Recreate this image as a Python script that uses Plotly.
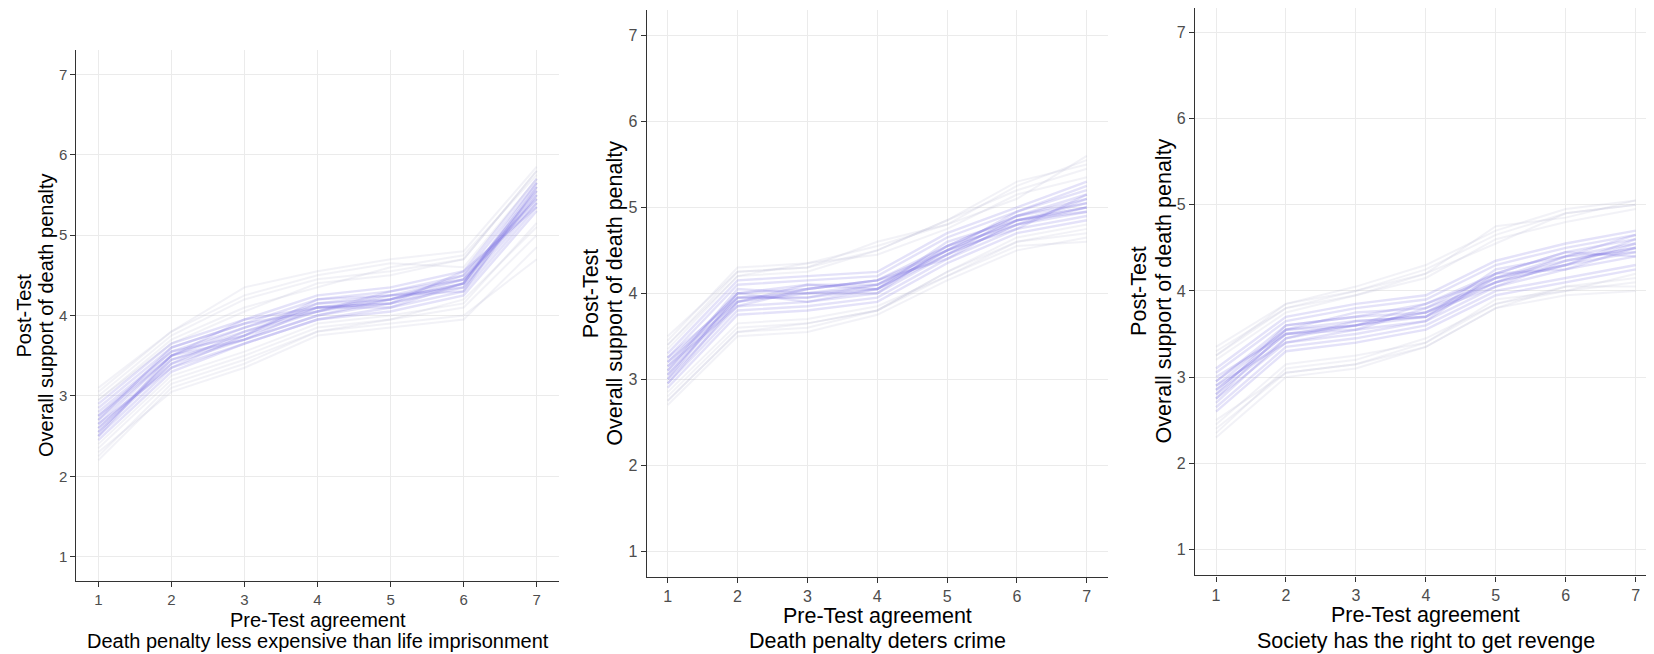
import plotly.graph_objects as go

x_levels = [1, 2, 3, 4, 5, 6, 7]
y_ticks = [1, 2, 3, 4, 5, 6, 7]

panel_titles = [
    "Death penalty less expensive than life imprisonment",
    "Death penalty deters crime",
    "Society has the right to get revenge",
]
x_title_main = "Pre-Test agreement"
y_title_lines = ["Post-Test", "Overall support of death penalty"]

# ---- Panel 1: Death penalty less expensive than life imprisonment ----
p1_core = [
    [2.65, 3.50, 3.80, 4.10, 4.20, 4.40, 5.50],
    [2.55, 3.40, 3.70, 4.00, 4.15, 4.35, 5.40],
    [2.75, 3.55, 3.85, 4.15, 4.25, 4.45, 5.55],
    [2.50, 3.35, 3.65, 3.95, 4.10, 4.30, 5.35],
    [2.85, 3.60, 3.90, 4.20, 4.30, 4.50, 5.65],
    [2.60, 3.45, 3.75, 4.05, 4.20, 4.45, 5.45],
    [2.70, 3.50, 3.85, 4.10, 4.15, 4.40, 5.60],
    [2.45, 3.30, 3.65, 3.95, 4.05, 4.25, 5.30],
    [2.90, 3.65, 3.95, 4.25, 4.35, 4.55, 5.70],
    [2.60, 3.40, 3.80, 4.05, 4.25, 4.35, 5.50],
    [2.80, 3.55, 3.75, 4.15, 4.20, 4.50, 5.45],
    [2.55, 3.45, 3.70, 4.10, 4.10, 4.40, 5.55],
    [2.70, 3.60, 3.90, 4.05, 4.30, 4.45, 5.40],
    [2.65, 3.35, 3.75, 4.20, 4.25, 4.30, 5.60],
    [2.75, 3.50, 3.95, 4.10, 4.15, 4.55, 5.35],
    [2.50, 3.50, 3.70, 4.00, 4.20, 4.40, 5.65],
]
p1_outer = [
    [2.20, 3.10, 3.40, 3.80, 3.90, 4.00, 4.70],
    [3.10, 3.80, 4.35, 4.55, 4.70, 4.80, 5.85],
    [2.35, 3.20, 3.50, 3.85, 3.95, 4.10, 5.00],
    [3.00, 3.75, 4.20, 4.45, 4.55, 4.70, 5.80],
    [2.30, 3.05, 3.35, 3.75, 3.85, 3.95, 4.85],
    [2.95, 3.70, 4.10, 4.35, 4.60, 4.75, 5.75],
    [2.40, 3.25, 3.55, 3.90, 4.00, 4.15, 5.15],
    [3.05, 3.80, 4.25, 4.50, 4.65, 4.60, 5.70],
    [2.25, 3.15, 3.45, 3.80, 3.95, 4.20, 5.10],
    [2.95, 3.65, 4.05, 4.40, 4.50, 4.70, 5.80],
]

# ---- Panel 2: Death penalty deters crime ----
p2_core = [
    [3.10, 3.95, 4.00, 4.05, 4.50, 4.85, 5.05],
    [3.00, 3.85, 3.90, 4.00, 4.45, 4.80, 4.95],
    [3.20, 4.00, 4.05, 4.15, 4.55, 4.90, 5.15],
    [2.95, 3.80, 3.85, 3.95, 4.40, 4.75, 4.90],
    [3.25, 4.10, 4.15, 4.20, 4.65, 4.95, 5.25],
    [3.05, 3.90, 4.00, 4.10, 4.50, 4.85, 5.00],
    [3.15, 4.00, 4.10, 4.05, 4.45, 4.90, 5.10],
    [2.90, 3.75, 3.80, 3.90, 4.35, 4.70, 4.85],
    [3.30, 4.15, 4.20, 4.25, 4.70, 5.00, 5.30],
    [3.05, 3.95, 3.95, 4.10, 4.55, 4.80, 5.00],
    [3.15, 3.85, 4.05, 4.15, 4.50, 4.95, 5.20],
    [3.00, 4.00, 3.90, 4.05, 4.60, 4.85, 4.95],
    [3.20, 3.90, 4.10, 4.10, 4.45, 4.80, 5.10],
    [3.10, 4.05, 4.00, 4.00, 4.55, 4.90, 5.05],
    [2.95, 3.90, 4.05, 4.15, 4.40, 4.85, 5.00],
    [3.25, 3.95, 3.95, 4.05, 4.50, 4.75, 5.15],
]
p2_outer = [
    [2.75, 3.55, 3.60, 3.80, 4.20, 4.55, 4.60],
    [3.45, 4.30, 4.35, 4.55, 4.80, 5.25, 5.55],
    [2.80, 3.60, 3.65, 3.80, 4.25, 4.60, 4.70],
    [3.40, 4.25, 4.30, 4.50, 4.85, 5.20, 5.45],
    [2.70, 3.50, 3.55, 3.75, 4.15, 4.50, 4.65],
    [3.50, 4.25, 4.30, 4.60, 4.80, 5.10, 5.60],
    [2.85, 3.65, 3.70, 3.85, 4.20, 4.60, 4.75],
    [3.35, 4.20, 4.35, 4.45, 4.75, 5.15, 5.35],
    [2.75, 3.55, 3.65, 3.80, 4.25, 4.65, 4.80],
    [3.40, 4.20, 4.25, 4.50, 4.85, 5.30, 5.50],
]

# ---- Panel 3: Society has the right to get revenge ----
p3_core = [
    [2.85, 3.50, 3.60, 3.75, 4.15, 4.35, 4.50],
    [2.75, 3.40, 3.50, 3.65, 4.05, 4.25, 4.40],
    [2.95, 3.60, 3.70, 3.85, 4.20, 4.45, 4.60],
    [2.65, 3.35, 3.45, 3.60, 4.00, 4.15, 4.30],
    [3.05, 3.65, 3.80, 3.90, 4.30, 4.50, 4.65],
    [2.80, 3.45, 3.60, 3.75, 4.10, 4.30, 4.45],
    [2.90, 3.55, 3.65, 3.70, 4.15, 4.40, 4.55],
    [2.60, 3.30, 3.40, 3.55, 3.95, 4.10, 4.25],
    [3.10, 3.70, 3.85, 3.95, 4.35, 4.55, 4.70],
    [2.85, 3.50, 3.55, 3.80, 4.20, 4.25, 4.50],
    [2.70, 3.45, 3.65, 3.70, 4.10, 4.40, 4.45],
    [2.95, 3.55, 3.60, 3.85, 4.15, 4.30, 4.60],
    [2.80, 3.60, 3.70, 3.75, 4.05, 4.35, 4.50],
    [2.90, 3.40, 3.55, 3.65, 4.20, 4.45, 4.40],
    [2.75, 3.55, 3.75, 3.80, 4.10, 4.30, 4.55],
    [3.00, 3.50, 3.60, 3.70, 4.25, 4.40, 4.65],
]
p3_outer = [
    [2.30, 3.00, 3.10, 3.35, 3.80, 3.95, 4.00],
    [3.35, 3.85, 4.05, 4.30, 4.70, 4.95, 5.05],
    [2.40, 3.05, 3.15, 3.40, 3.85, 4.00, 4.10],
    [3.25, 3.80, 4.00, 4.25, 4.65, 4.90, 5.00],
    [2.35, 3.10, 3.20, 3.45, 3.85, 4.05, 4.15],
    [3.30, 3.80, 3.95, 4.20, 4.75, 4.85, 5.05],
    [2.45, 3.15, 3.25, 3.40, 3.90, 4.00, 4.20],
    [3.20, 3.75, 3.95, 4.15, 4.60, 4.80, 4.95],
    [2.50, 3.05, 3.15, 3.35, 3.80, 4.05, 4.05],
    [3.25, 3.85, 4.00, 4.20, 4.55, 4.90, 5.00],
]

OFF = 8                      # page body margin added by the browser
W, H = 1654 - OFF, 654 - OFF  # figure fits inside the window
FONT = "Liberation Sans, Arial, sans-serif"

# geometry (window pixels): pixel of value 1 and pixel size of one unit
panels = [
    dict(core=p1_core, outer=p1_outer, x1=98.3, ux=73.07, y1=556.7, uy=80.4,
         tfs=20, kfs=15, ytl=(24, 46.5), xtl=(620, 641)),
    dict(core=p2_core, outer=p2_outer, x1=667.7, ux=69.85, y1=551.0, uy=85.9,
         tfs=21.5, kfs=16, ytl=(591, 615.5), xtl=(616, 641)),
    dict(core=p3_core, outer=p3_outer, x1=1216.0, ux=69.95, y1=549.5, uy=86.2,
         tfs=21.5, kfs=16, ytl=(1139, 1163.5), xtl=(615, 641)),
]


def fx(v):
    return (v - OFF) / W


def fy(v):
    return 1 - (v - OFF) / H


fig = go.Figure()
annotations = []
for i, p in enumerate(panels):
    n = "" if i == 0 else str(i + 1)
    xa, ya = "x" + n, "y" + n
    for row in p["outer"]:
        fig.add_trace(go.Scatter(x=x_levels, y=row, mode="lines", xaxis=xa, yaxis=ya,
                                 line=dict(color="rgba(175,175,205,0.16)", width=2),
                                 hoverinfo="skip", showlegend=False))
    for row in p["core"]:
        fig.add_trace(go.Scatter(x=x_levels, y=row, mode="lines", xaxis=xa, yaxis=ya,
                                 line=dict(color="rgba(120,110,225,0.2)", width=2.4),
                                 hoverinfo="skip", showlegend=False))
    # pixel edges of the panel with ggplot's 0.3 expansion, clamped to the page
    left = p["x1"] - 0.3 * p["ux"]
    right = min(p["x1"] + 6.3 * p["ux"], OFF + W)
    bottom = p["y1"] + 0.3 * p["uy"]
    top = max(p["y1"] - 6.3 * p["uy"], OFF)
    xmax = 1 + (right - p["x1"]) / p["ux"]
    ymax = 1 + (p["y1"] - top) / p["uy"]
    axis_common = dict(showgrid=True, gridcolor="#EBEBEB", gridwidth=1,
                       zeroline=False, showline=True, linecolor="#333333", linewidth=1.3,
                       ticks="outside", ticklen=5, tickcolor="#333333", tickwidth=1,
                       tickfont=dict(family=FONT, size=p["kfs"], color="#4D4D4D"))
    fig.update_layout(**{
        "xaxis" + n: dict(axis_common, domain=[fx(left), fx(right)], anchor=ya,
                          range=[0.7, xmax],
                          tickvals=x_levels, ticktext=[str(v) for v in x_levels]),
        "yaxis" + n: dict(axis_common, domain=[fy(bottom), fy(top)], anchor=xa,
                          range=[0.7, ymax],
                          tickvals=y_ticks, ticktext=[str(v) for v in y_ticks]),
    })
    cx = p["x1"] + 3 * p["ux"]
    cy = p["y1"] - 3 * p["uy"]
    tf = dict(family=FONT, size=p["tfs"], color="#000000")
    annotations.append(dict(text=x_title_main, x=fx(cx), y=fy(p["xtl"][0]),
                            xref="paper", yref="paper", xanchor="center", yanchor="middle",
                            showarrow=False, font=tf))
    annotations.append(dict(text=panel_titles[i], x=fx(cx), y=fy(p["xtl"][1]),
                            xref="paper", yref="paper", xanchor="center", yanchor="middle",
                            showarrow=False, font=tf))
    for k, line in enumerate(y_title_lines):
        annotations.append(dict(text=line, x=fx(p["ytl"][k]), y=fy(cy), textangle=-90,
                                xref="paper", yref="paper", xanchor="center", yanchor="middle",
                                showarrow=False, font=tf))

fig.update_layout(width=W, height=H, margin=dict(l=0, r=0, t=0, b=0),
                  paper_bgcolor="white", plot_bgcolor="white",
                  annotations=annotations, showlegend=False)

fig.write_html("out.html")
